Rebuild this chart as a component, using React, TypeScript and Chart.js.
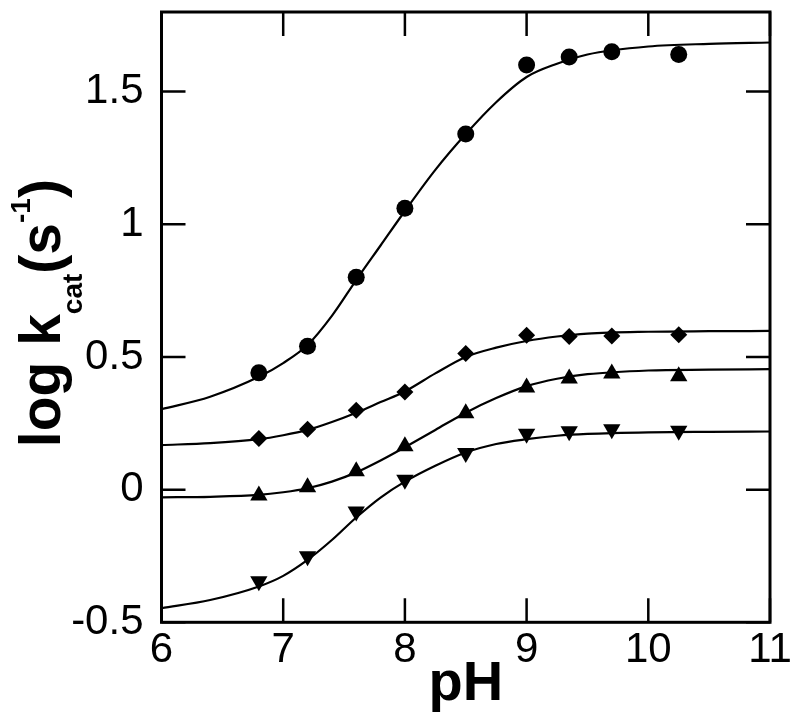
import React, { useEffect, useRef } from "react";
import { Chart, registerables } from "chart.js";

Chart.register(...registerables);

// ---- data ----
const PH_POINTS = [6.8, 7.2, 7.6, 8.0, 8.5, 9.0, 9.35, 9.7, 10.25];
const CIRCLE_VALUES = [0.44, 0.54, 0.8, 1.06, 1.34, 1.6, 1.63, 1.65, 1.64];
const DIAMOND_VALUES = [0.193, 0.228, 0.299, 0.368, 0.513, 0.582, 0.577, 0.579, 0.584];
const UP_TRIANGLE_VALUES = [-0.022, 0.009, 0.069, 0.163, 0.288, 0.385, 0.419, 0.438, 0.427];
const DOWN_TRIANGLE_VALUES = [-0.345, -0.251, -0.082, 0.037, 0.138, 0.211, 0.22, 0.228, 0.222];

const PH_FIT = [6, 6.4, 6.8, 7.0, 7.2, 7.4, 7.6, 7.8, 8.0, 8.25, 8.5, 8.75, 9.0, 9.25, 9.5, 10, 10.5, 11];
const CIRCLE_FIT = [0.303, 0.35, 0.425, 0.477, 0.545, 0.655, 0.79, 0.92, 1.05, 1.205, 1.34, 1.46, 1.555, 1.605, 1.64, 1.67, 1.68, 1.685];
const DIAMOND_FIT = [0.168, 0.175, 0.19, 0.205, 0.225, 0.255, 0.29, 0.33, 0.37, 0.438, 0.5, 0.535, 0.56, 0.577, 0.588, 0.595, 0.597, 0.598];
const UP_TRIANGLE_FIT = [-0.029, -0.027, -0.02, -0.01, 0.005, 0.03, 0.065, 0.11, 0.16, 0.225, 0.29, 0.345, 0.39, 0.418, 0.435, 0.449, 0.452, 0.454];
const DOWN_TRIANGLE_FIT = [-0.447, -0.416, -0.365, -0.325, -0.265, -0.19, -0.105, -0.03, 0.03, 0.09, 0.14, 0.172, 0.19, 0.203, 0.21, 0.216, 0.218, 0.219];

const X_TICKS = [6, 7, 8, 9, 10, 11];
const Y_TICKS = [-0.5, 0, 0.5, 1, 1.5];
const X_TICK_LABELS = ["6", "7", "8", "9", "10", "11"];
const Y_TICK_LABELS = ["-0.5", "0", "0.5", "1", "1.5"];
const X_RANGE = [6, 11];
const Y_RANGE = [-0.5, 1.8];

const X_TITLE = "pH";
const Y_TITLE_PARTS = [
  { text: "log k", kind: "normal" },
  { text: "cat", kind: "sub" },
  { text: "(s", kind: "normal" },
  { text: "-1", kind: "sup" },
  { text: ")", kind: "normal" },
];

const FONT = '"Liberation Sans", Arial, Helvetica, sans-serif';

const toXY = (xs: number[], ys: number[]) => xs.map((x, i) => ({ x, y: ys[i] }));

const framePlugin = {
  id: "frameAndTitles",
  afterDatasetsDraw(chart: any) {
    const { ctx, chartArea, scales } = chart;
    const { left, right, top, bottom } = chartArea;
    const xs = scales.x;
    const ys = scales.y;
    ctx.save();
    ctx.strokeStyle = "#000";
    ctx.lineWidth = 2.5;
    ctx.beginPath();
    const TL = 24;
    X_TICKS.forEach((v) => {
      const px = xs.getPixelForValue(v);
      ctx.moveTo(px, bottom);
      ctx.lineTo(px, bottom - TL);
      ctx.moveTo(px, top);
      ctx.lineTo(px, top + TL);
    });
    Y_TICKS.forEach((v) => {
      const py = ys.getPixelForValue(v);
      ctx.moveTo(left, py);
      ctx.lineTo(left + TL, py);
      ctx.moveTo(right, py);
      ctx.lineTo(right - TL, py);
    });
    ctx.stroke();
    ctx.lineWidth = 3;
    ctx.strokeRect(left, top, right - left, bottom - top);

    // x title
    ctx.fillStyle = "#000";
    ctx.font = `bold 56px ${FONT}`;
    ctx.textAlign = "center";
    ctx.textBaseline = "alphabetic";
    ctx.fillText(X_TITLE, (left + right) / 2, 700);

    // y title with sub/superscripts
    const big = `bold 57px ${FONT}`;
    const small = `bold 28px ${FONT}`;
    let total = 0;
    const widths = Y_TITLE_PARTS.map((p) => {
      ctx.font = p.kind === "normal" ? big : small;
      const w = ctx.measureText(p.text).width;
      total += w;
      return w;
    });
    ctx.translate(60, (top + bottom) / 2 - 4);
    ctx.rotate(-Math.PI / 2);
    ctx.textAlign = "left";
    let cx = -total / 2;
    Y_TITLE_PARTS.forEach((p, i) => {
      ctx.font = p.kind === "normal" ? big : small;
      const dy = p.kind === "sub" ? 22 : p.kind === "sup" ? -30 : 0;
      ctx.fillText(p.text, cx, dy);
      cx += widths[i];
    });
    ctx.restore();
  },
};

export default function App() {
  const ref = useRef<HTMLCanvasElement | null>(null);

  useEffect(() => {
    if (!ref.current) return;
    const black = "#000";
    const curve = (data: number[]) => ({
      data: toXY(PH_FIT, data),
      showLine: true,
      borderColor: black,
      borderWidth: 2.2,
      pointRadius: 0,
      cubicInterpolationMode: "monotone" as const,
      fill: false,
      order: 2,
    });
    const pts = (data: number[], style: string, radius: number, rotation = 0) => ({
      data: toXY(PH_POINTS, data),
      showLine: false,
      pointStyle: style,
      pointRadius: radius,
      pointRotation: rotation,
      backgroundColor: black,
      borderColor: black,
      borderWidth: 0,
      order: 1,
    });

    const chart = new Chart(ref.current, {
      type: "scatter",
      data: {
        datasets: [
          curve(CIRCLE_FIT),
          curve(DIAMOND_FIT),
          curve(UP_TRIANGLE_FIT),
          curve(DOWN_TRIANGLE_FIT),
          pts(CIRCLE_VALUES, "circle", 8.5),
          pts(DIAMOND_VALUES, "rectRot", 8.5),
          pts(UP_TRIANGLE_VALUES, "triangle", 10),
          pts(DOWN_TRIANGLE_VALUES, "triangle", 10, 180),
        ] as any,
      },
      options: {
        animation: false,
        responsive: false,
        layout: { padding: { top: 12, right: 30, left: 0, bottom: 0 } },
        plugins: { legend: { display: false }, tooltip: { enabled: false }, title: { display: false } },
        scales: {
          x: {
            type: "linear",
            min: X_RANGE[0],
            max: X_RANGE[1],
            afterBuildTicks: (s: any) => {
              s.ticks = X_TICKS.map((v) => ({ value: v }));
            },
            afterFit: (s: any) => {
              s.height = 721 - 622.3;
              s.paddingLeft = 0;
              s.paddingRight = 0;
            },
            grid: { display: false, drawTicks: false },
            border: { display: false },
            ticks: {
              color: black,
              font: { size: 42, family: FONT },
              padding: 3,
              maxRotation: 0,
              autoSkip: false,
              callback: (v: any) => {
                const i = X_TICKS.indexOf(Number(v));
                return i >= 0 ? X_TICK_LABELS[i] : "";
              },
            },
          },
          y: {
            type: "linear",
            min: Y_RANGE[0],
            max: Y_RANGE[1],
            afterBuildTicks: (s: any) => {
              s.ticks = Y_TICKS.map((v) => ({ value: v }));
            },
            afterFit: (s: any) => {
              s.width = 161.5;
              s.paddingTop = 0;
              s.paddingBottom = 0;
            },
            grid: { display: false, drawTicks: false },
            border: { display: false },
            ticks: {
              color: black,
              font: { size: 42, family: FONT },
              padding: 18,
              autoSkip: false,
              callback: (v: any) => {
                const i = Y_TICKS.indexOf(Number(v));
                return i >= 0 ? Y_TICK_LABELS[i] : "";
              },
            },
          },
        },
      },
      plugins: [framePlugin],
    });
    return () => chart.destroy();
  }, []);

  return (
    <div style={{ position: "fixed", left: 0, top: 0, width: 800, height: 721, background: "#fff" }}>
      <canvas ref={ref} width={800} height={721} style={{ display: "block", width: 800, height: 721 }} />
    </div>
  );
}
